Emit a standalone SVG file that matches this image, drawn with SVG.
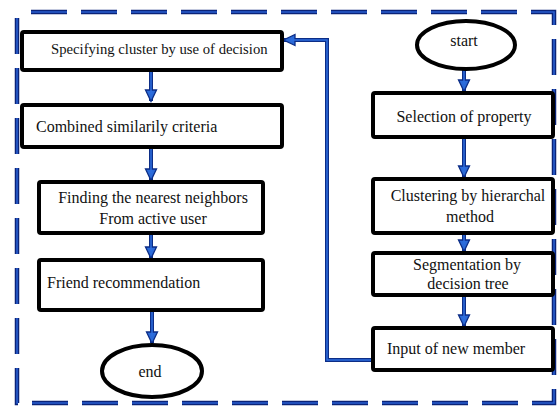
<svg xmlns="http://www.w3.org/2000/svg" width="557" height="406" viewBox="0 0 557 406">
<style>
  .box{fill:#fff;stroke:#000;stroke-width:4;}
  .oval{fill:#fff;stroke:#000;stroke-width:4;}
  text{font-family:'Liberation Serif','Times New Roman',Times,'DejaVu Serif',serif;font-size:16px;fill:#111;}
  .c{text-anchor:middle;}
  .small{font-size:14.7px;}
  .frameO{fill:none;stroke:#0a2378;stroke-width:4.5;stroke-dasharray:36 14;}
  .frameI{fill:none;stroke:#2a5fd0;stroke-width:1.6;stroke-dasharray:36 14;}
  .connO{fill:none;stroke:#0c2d86;stroke-width:4;}
  .connI{fill:none;stroke:#2f6fe0;stroke-width:1.5;}
</style>
<defs>
  <marker id="ah" markerUnits="userSpaceOnUse" markerWidth="14" markerHeight="14" viewBox="0 0 14 14" refX="12" refY="7" orient="auto">
    <path d="M1,1.5 L12.5,7 L1,12.5 Z" fill="#2b6ad8" stroke="#0c2d86" stroke-width="1.3"/>
  </marker>
</defs>
<rect width="557" height="406" fill="#fff"/>
<g id="frame">
  <path class="frameO" d="M17,18 V403 H554 V12 H25"/>
  <path class="frameI" d="M17,18 V403 H554 V12 H25"/>
</g>
<g id="connectors">
  <path class="connO" d="M151,70 V101" marker-end="url(#ah)"/>
  <path class="connO" d="M151,147 V180" marker-end="url(#ah)"/>
  <path class="connO" d="M151,233 V258" marker-end="url(#ah)"/>
  <path class="connO" d="M152,310 V343" marker-end="url(#ah)"/>
  <path class="connO" d="M464,70 V91" marker-end="url(#ah)"/>
  <path class="connO" d="M464,137 V177" marker-end="url(#ah)"/>
  <path class="connO" d="M464,233 V251" marker-end="url(#ah)"/>
  <path class="connO" d="M464,295 V326" marker-end="url(#ah)"/>
  <path class="connO" d="M373,360 H327 V40 H284" marker-end="url(#ah)"/>
  <path class="connI" d="M151,70 V94 M151,147 V173 M151,233 V251 M152,310 V336 M464,70 V84 M464,137 V170 M464,233 V244 M464,295 V319 M373,360 H327 V40 H291"/>
</g>
<g id="n-specifying">
  <rect class="box" x="22" y="32" width="260" height="38" rx="2"/>
  <text class="small" x="51" y="54">Specifying cluster by use of decision</text>
</g>
<g id="n-combined">
  <rect class="box" x="22" y="105" width="260" height="42" rx="2"/>
  <text x="36" y="132">Combined similarily criteria</text>
</g>
<g id="n-finding">
  <rect class="box" x="39" y="182" width="224" height="51" rx="2"/>
  <text class="c" x="153" y="203">Finding the nearest neighbors</text>
  <text class="c" x="153" y="224">From active user</text>
</g>
<g id="n-friend">
  <rect class="box" x="39" y="260" width="224" height="50" rx="2"/>
  <text x="47" y="288">Friend recommendation</text>
</g>
<g id="n-end">
  <ellipse class="oval" cx="152" cy="371" rx="50" ry="26"/>
  <text class="c" x="150" y="377">end</text>
</g>
<g id="n-start">
  <ellipse class="oval" cx="466" cy="45" rx="49" ry="24"/>
  <text class="c" x="464" y="46">start</text>
</g>
<g id="n-selection">
  <rect class="box" x="373" y="93" width="180" height="44" rx="2"/>
  <text class="c" x="464" y="122">Selection of property</text>
</g>
<g id="n-clustering">
  <rect class="box" x="373" y="179" width="180" height="54" rx="2"/>
  <text class="c" x="468" y="201">Clustering by hierarchal</text>
  <text class="c" x="470" y="222">method</text>
</g>
<g id="n-segmentation">
  <rect class="box" x="373" y="253" width="180" height="42" rx="2"/>
  <text class="c" x="467" y="270">Segmentation by</text>
  <text class="c" x="468" y="289">decision tree</text>
</g>
<g id="n-input">
  <rect class="box" x="373" y="328" width="180" height="42" rx="2"/>
  <text x="387" y="354">Input of new member</text>
</g>
</svg>
